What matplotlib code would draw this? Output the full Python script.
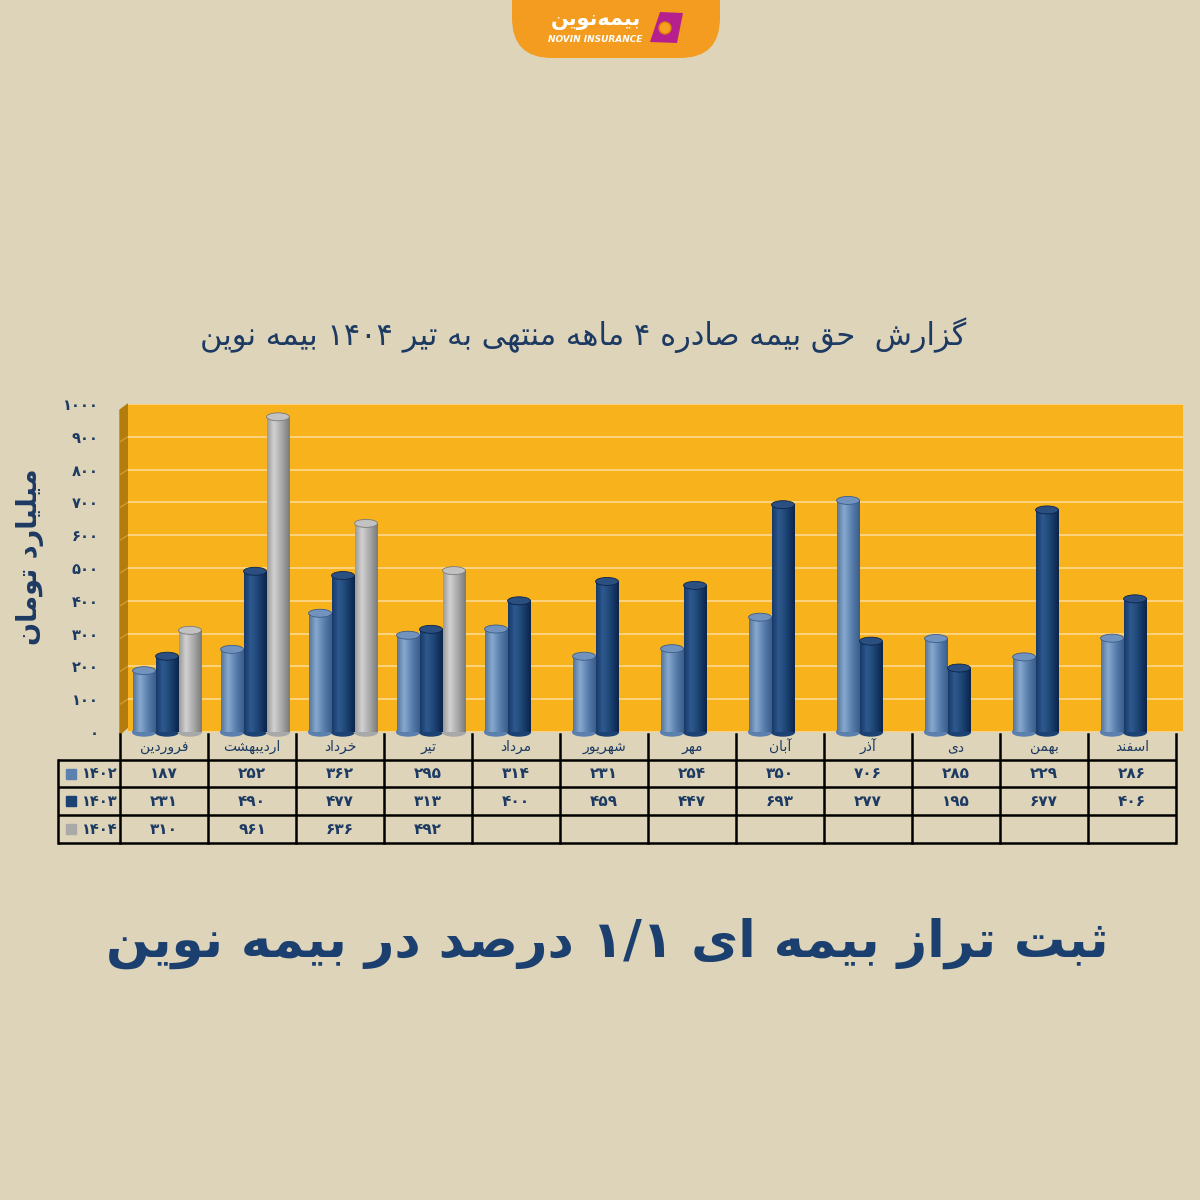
import numpy as np
import matplotlib
matplotlib.use("Agg")
import matplotlib.pyplot as plt
from matplotlib.patches import Ellipse, Polygon, FancyBboxPatch, Rectangle, Circle
from matplotlib.colors import LinearSegmentedColormap

# Data
months = ["فروردین", "اردیبهشت", "خرداد", "تیر", "مرداد", "شهریور",
          "مهر", "آبان", "آذر", "دی", "بهمن", "اسفند"]
years = ["1402", "1403", "1404"]
v1402 = [187, 252, 362, 295, 314, 231, 254, 350, 706, 285, 229, 286]
v1403 = [231, 490, 477, 313, 400, 459, 447, 693, 277, 195, 677, 406]
v1404 = [310, 961, 636, 492]
y_ticks = list(range(0, 1001, 100))

title = "گزارش  حق بیمه صادره ۴ ماهه منتهی به تیر ۱۴۰۴ بیمه نوین"
y_label = "میلیارد تومان"
headline = "ثبت تراز بیمه ای ۱/۱ درصد در بیمه نوین"
logo_fa = "بیمه\u200cنوین"
logo_en = "NOVIN INSURANCE"

BG = "#ddd4b9"
NAVY = "#1d3a63"
WALL = "#f8b21c"

# --- minimal Persian shaping (matplotlib has no complex text layout) ---
DUAL = {'ب': 0xFE8F, 'ت': 0xFE95, 'ث': 0xFE99, 'ج': 0xFE9D, 'ح': 0xFEA1, 'خ': 0xFEA5,
        'س': 0xFEB1, 'ش': 0xFEB5, 'ص': 0xFEB9, 'ض': 0xFEBD, 'ط': 0xFEC1, 'ظ': 0xFEC5,
        'ع': 0xFEC9, 'غ': 0xFECD, 'ف': 0xFED1, 'ق': 0xFED5, 'ل': 0xFEDD, 'م': 0xFEE1,
        'ن': 0xFEE5, 'ه': 0xFEE9, 'ی': 0xFBFC, 'پ': 0xFB56, 'چ': 0xFB7A, 'ک': 0xFB8E,
        'گ': 0xFB92}
RIGHT = {'ا': 0xFE8D, 'آ': 0xFE81, 'د': 0xFEA9, 'ذ': 0xFEAB, 'ر': 0xFEAD, 'ز': 0xFEAF,
         'ژ': 0xFB8A, 'و': 0xFEED}


def shape_word(w):
    out = []
    for i, c in enumerate(w):
        if c in DUAL or c in RIGHT:
            prev = w[i - 1] if i > 0 else ''
            nxt = w[i + 1] if i + 1 < len(w) else ''
            jp = prev in DUAL
            jn = c in DUAL and (nxt in DUAL or nxt in RIGHT)
            k = 3 if (jp and jn) else 1 if jp else 2 if jn else 0
            out.append(chr(DUAL.get(c, RIGHT.get(c)) + k))
        elif c == '\u200c':
            continue
        else:
            out.append(c)
    return ''.join(out)


def fa(text):
    tokens = []
    for t in text.split(' '):
        if any(ch in DUAL or ch in RIGHT for ch in t):
            tokens.append(shape_word(t)[::-1])
        else:
            tokens.append(t)
    return ' '.join(tokens[::-1])


def fa_num(n):
    return str(n).translate(str.maketrans('0123456789', '۰۱۲۳۴۵۶۷۸۹'))


plt.rcParams['font.family'] = ['DejaVu Sans']

fig = plt.figure(figsize=(12, 12), dpi=100)
fig.patch.set_facecolor(BG)

# overlay in pixel coordinates
ax0 = fig.add_axes([0, 0, 1, 1])
ax0.set_xlim(0, 1200)
ax0.set_ylim(1200, 0)
ax0.axis('off')

# chart axes (back wall)
L, R, T, B = 128, 1183, 404, 732
ax = fig.add_axes([L / 1200, (1200 - B) / 1200, (R - L) / 1200, (B - T) / 1200])
ax.set_facecolor(WALL)
for s in ax.spines.values():
    s.set_visible(False)

# left wall
ax0.add_patch(Polygon([(120, 410), (128, 404), (128, 727), (120, 734)],
                      closed=True, color="#b27c0e", zorder=1))
for v in y_ticks[1:-1]:
    yp = B - (B - T) * v / 1000
    ax0.plot([120, 128], [yp + 5, yp], color="#d89a2a", lw=1)

group_w = 88.0
x_left = (L - 164) / group_w
x_right = (R - 164) / group_w

series = [
    (v1402, ["#52769f", "#88a8cd", "#5b80ae", "#3a5d8a"], "#7293bd", "#5b80ae"),
    (v1403, ["#17396a", "#2f5a8f", "#1b4273", "#0c2449"], "#2a4f80", "#1b4273"),
    (v1404, ["#9a9a9a", "#d2d2d2", "#a8a8a8", "#7a7a7a"], "#c2c2c2", "#a9a9a9"),
]
offsets = [-0.227, 0.034, 0.295]
bar_w = 0.26
cap = 8 / ((B - T) / 1000)
grad = np.linspace(0, 1, 64).reshape(1, -1)

for (vals, cols, top_c, _), off in zip(series, offsets):
    cmap = LinearSegmentedColormap.from_list("cyl", list(zip([0, 0.3, 0.65, 1], cols)))
    for i, v in enumerate(vals):
        xc = i + off
        ax.add_patch(Ellipse((xc, 0), bar_w, cap, color=cols[2], zorder=2.9, clip_on=False))
        ax.imshow(grad, cmap=cmap, extent=(xc - bar_w / 2, xc + bar_w / 2, 0, v),
                  aspect='auto', zorder=3, interpolation='bicubic')
        ax.add_patch(Ellipse((xc, v), bar_w, cap, facecolor=top_c,
                             edgecolor=cols[3], lw=0.6, zorder=3.1))

ax.set_xlim(x_left, x_right)
ax.set_ylim(0, 1000)
ax.set_xticks([])
ax.set_yticks(y_ticks)
ax.set_yticklabels([fa_num(v) for v in y_ticks], fontsize=10.5, fontweight='bold', color=NAVY)
ax.tick_params(axis='y', length=0, pad=21)
ax.yaxis.grid(True, color="#fdd68a", lw=1.3)
ax.set_axisbelow(True)

# table
edges = [120 + group_w * i for i in range(13)]
rows_y = [760, 787, 815, 843]
lw = 1.8
for y in rows_y:
    ax0.plot([58, edges[-1]], [y, y], color="black", lw=lw, solid_capstyle='butt')
ax0.plot([58, 58], [rows_y[0], rows_y[-1]], color="black", lw=lw)
for x in edges:
    ax0.plot([x, x], [734, rows_y[-1]], color="black", lw=lw)

for i, m in enumerate(months):
    ax0.text(164 + group_w * i, 747, fa(m), ha='center', va='center', fontsize=10, color=NAVY)

row_vals = [v1402, v1403, v1404]
for r, (vals, yr, s) in enumerate(zip(row_vals, years, series)):
    yc = (rows_y[r] + rows_y[r + 1]) / 2
    ax0.add_patch(Rectangle((66, yc - 5), 10, 10, color=s[3]))
    ax0.text(100, yc, fa_num(yr), ha='center', va='center', fontsize=10.5,
             fontweight='bold', color=NAVY)
    for i, v in enumerate(vals):
        ax0.text(164 + group_w * i, yc, fa_num(v), ha='center', va='center',
                 fontsize=11, fontweight='bold', color=NAVY)

# texts
ax0.text(583, 335, fa(title), ha='center', va='center', fontsize=22, color=NAVY)
ax0.text(30, 557, fa(y_label), ha='center', va='center', rotation=90,
         fontsize=19.5, fontweight='bold', color=NAVY)
ax0.text(607, 943, fa(headline), ha='center', va='center', fontsize=37,
         fontweight='bold', color="#1b3f6e")

# logo tab
ax0.add_patch(FancyBboxPatch((512, -60), 208, 118, boxstyle="round,pad=0,rounding_size=40",
                             facecolor="#f39c1f", edgecolor="none", zorder=2))
ax0.text(596, 20, fa(logo_fa), ha='center', va='center', fontsize=15, fontweight='bold',
         color="white", zorder=3)
ax0.text(595, 39, logo_en, ha='center', va='center', fontsize=6.5, fontweight='bold',
         fontstyle='italic', color="white", zorder=3)
ax0.add_patch(Polygon([(660, 12), (683, 13), (677, 43), (650, 42)], closed=True,
                      facecolor="#b5208e", edgecolor="none", zorder=3))
ax0.add_patch(Circle((665, 28), 6, facecolor="#f6a21e", edgecolor="#e07b10", lw=1, zorder=4))

fig.savefig("out.png", dpi=100, facecolor=BG)
